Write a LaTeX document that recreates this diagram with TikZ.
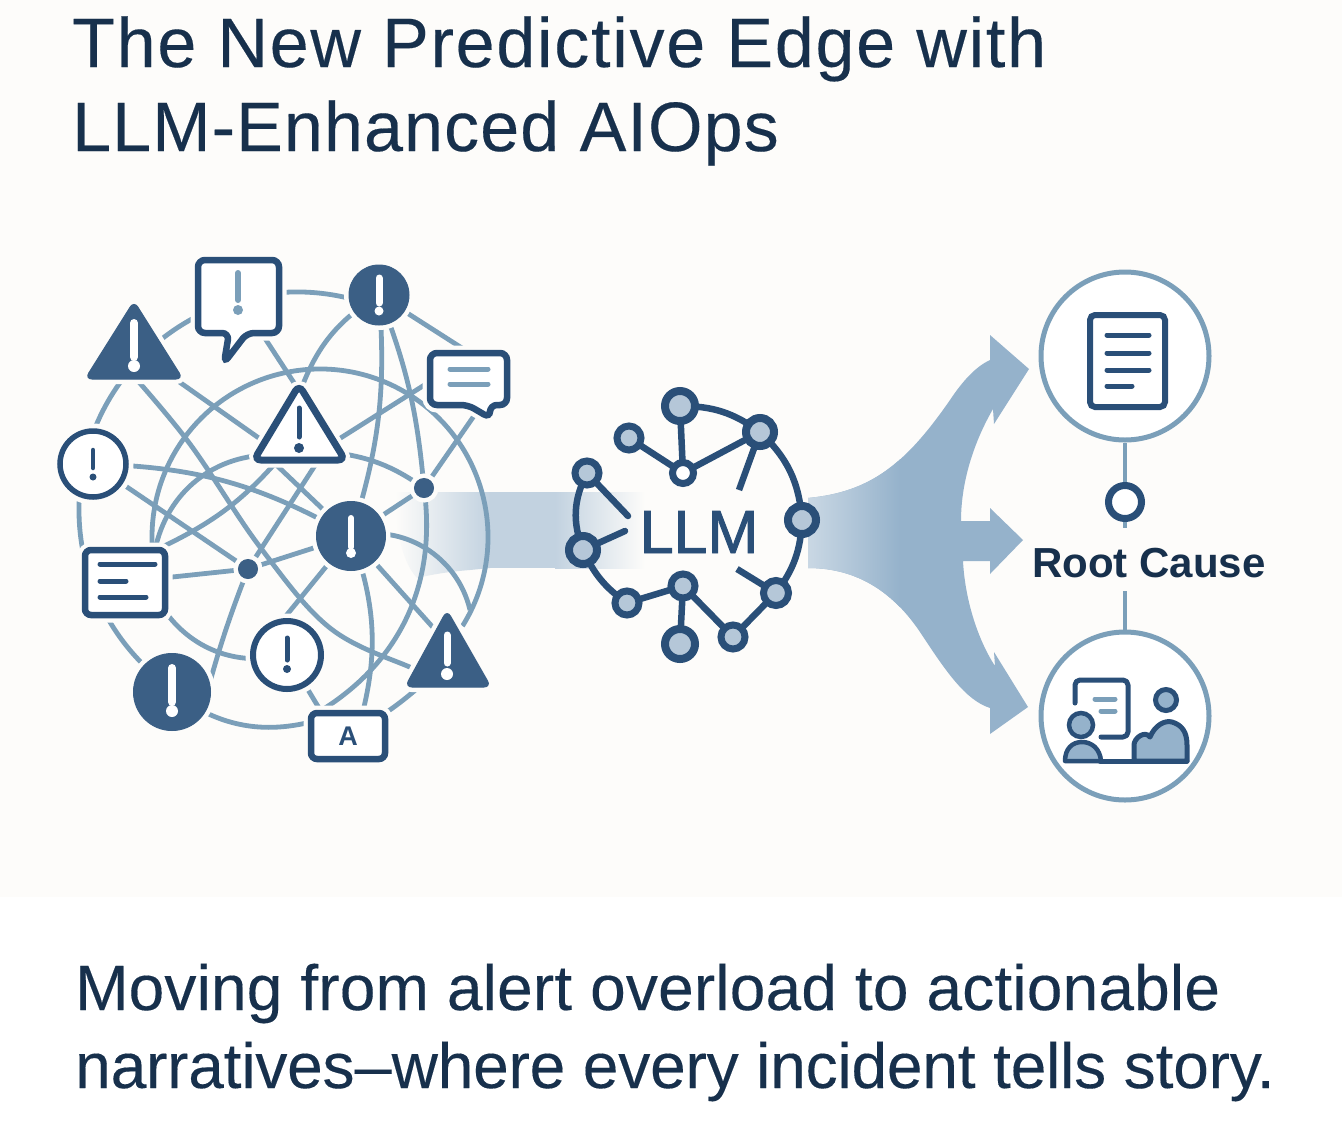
\documentclass[tikz,border=0pt]{standalone}
\usepackage{fontspec}
\setmainfont{Liberation Sans}
\newfontfamily\titlefont[LetterSpace=2.5,FakeBold=0.25]{Liberation Sans}
\newfontfamily\titlefontb[LetterSpace=1.6,FakeBold=0.25]{Liberation Sans}
\newfontfamily\subfont[LetterSpace=0.3,FakeBold=0.2]{Liberation Sans}
\newfontfamily\subfontb[LetterSpace=-0.28,FakeBold=0.2]{Liberation Sans}
\newfontfamily\llmfont[FakeBold=1.6]{Liberation Sans}
\definecolor{bgc}{HTML}{FDFCFA}
\definecolor{navy}{HTML}{17304C}
\definecolor{dark}{HTML}{2A4F78}
\definecolor{solidc}{HTML}{3B5F85}
\definecolor{netc}{HTML}{7B9FB9}
\definecolor{band}{HTML}{C2D2E0}
\definecolor{flow}{HTML}{95B2CB}
\definecolor{inner}{HTML}{B5C7D8}
\tikzset{
 netl/.style={draw=netc,line width=4.8pt},
 halo/.style={preaction={draw=bgc,line width=#1}},
 halo/.default=15pt,
 iconout/.style={draw=dark,line width=6.5pt,fill=white,halo},
 iconsolid/.style={draw=solidc,line width=1pt,fill=solidc,halo=10pt},
 outc/.style={circle,draw=dark,fill=white,inner sep=0pt,halo},
 solc/.style={circle,draw=solidc,fill=solidc,line width=1pt,inner sep=0pt,halo=10pt},
 doc/.style={draw=dark,line width=5pt,line cap=round},
 lln/.style={circle,draw=dark,line width=8pt,fill=inner,inner sep=0pt},
 lle/.style={draw=dark,line width=6.5pt},
 ring/.style={circle,draw=netc,line width=5pt,fill=white,minimum size=168pt,inner sep=0pt},
 titletext/.style={anchor=base west,inner sep=0pt,text=navy},
}
\newcommand\bang[7]{% x y1 y2 ydot r w color
 \draw[#7,line width=#6pt,line cap=round] (#1,#2) -- (#1,#3);
 \fill[#7] (#1,#4) circle (#5pt);}
\begin{document}
\begin{tikzpicture}[x=1pt,y=-1pt]
\useasboundingbox (0,0) rectangle (1342,1120);
\fill[white] (0,0) rectangle (1342,1120);
\fill[bgc] (0,0) rectangle (1342,897);
% titles
\node[titletext,font=\titlefont\fontsize{70}{70}\selectfont] (t1) at (72,67) {The New Predictive Edge with};
\node[titletext,font=\titlefontb\fontsize{70}{70}\selectfont] (t2) at (72,151) {LLM-Enhanced AIOps};
\node[titletext,font=\subfont\fontsize{64}{64}\selectfont] (s1) at (75,1010) {Moving from alert overload to actionable};
\node[titletext,font=\subfontb\fontsize{64}{64}\selectfont] (s2) at (75,1088) {narratives\scalebox{0.58}[1]{—}where every incident tells story.};
% left band
\shade[left color=bgc,right color=band] (395,492) -- (490,492) -- (490,568) -- (470,570) .. controls (445,572) and (430,575) .. (417,578) .. controls (400,560) and (395,520) .. (395,492) -- cycle;
\fill[band] (489,492) rectangle (556,568);
\shade[left color=band,right color=bgc] (555,492) rectangle (645,568);
% right flow
\begin{scope}
\clip (808,498) .. controls (870,492) and (905,465) .. (950,400) .. controls (962,382) and (975,367) .. (990,360) -- (990,335) -- (1029,369) -- (994,424) -- (993,409) .. controls (975,440) and (961,480) .. (961,521) -- (990,521) -- (990,508) -- (1023,540) -- (990,574) -- (990,561) -- (963,561) .. controls (965,600) and (978,640) .. (995,666) -- (994,652) -- (1028,707) -- (990,734) -- (990,708) .. controls (965,700) and (945,670) .. (920,632) .. controls (895,595) and (860,568) .. (808,568) -- cycle;
\fill[flow] (800,320) rectangle (1040,740);
\shade[left color=band!80!white,right color=flow] (800,320) rectangle (900,740);
\end{scope}
% hubs of the network
\coordinate (T1) at (134,350);
\coordinate (S1) at (238,297);
\coordinate (C1) at (379,295);
\coordinate (S2) at (468,379);
\coordinate (T2) at (299,435);
\coordinate (C2) at (93,464);
\coordinate (D1) at (424,488);
\coordinate (C3) at (351,536);
\coordinate (B1) at (125,582);
\coordinate (D2) at (248,569);
\coordinate (C4) at (287,655);
\coordinate (C5) at (172,692);
\coordinate (AB) at (348,736);
\coordinate (T3) at (447,660);
% ports inside the icons
\coordinate (Ring) at (320,537);
\coordinate (Hoop) at (297,510);
\coordinate (S2t) at (465,350);
\coordinate (T2a) at (300,392);
\coordinate (S2a) at (445,372);
\coordinate (T2d) at (320,451);
\coordinate (S2b) at (485,400);
\coordinate (T2e) at (330,452);
\coordinate (T2f) at (290,460);
\coordinate (T1b) at (115,355);
\coordinate (T3b) at (450,682);
\coordinate (Bp1) at (155,550);
\coordinate (T2g) at (275,455);
\coordinate (Bp2) at (160,548);
\coordinate (T2h) at (285,452);
\coordinate (T2j) at (325,450);
\coordinate (T2k) at (268,457);
\coordinate (C5b) at (205,700);
\coordinate (Bp3) at (155,595);
\coordinate (C4b) at (272,633);
\coordinate (ABb) at (358,730);
\coordinate (T3p) at (447,643);
\coordinate (T3q) at (470,610);
\coordinate (ABc) at (325,718);
\coordinate (ABd) at (312,716);
% network
\draw[netl] (Ring) ++(32:168) arc[start angle=32,end angle=-184,radius=168];
\draw[netl] (Hoop) ++(-69:218) arc[start angle=-69,end angle=-236,radius=218];
\draw[netl] (C5) to[bend right=27] (ABc);
\draw[netl] (AB) to[bend right=8] (T3);
\draw[netl] (C1) -- (S2t);
\draw[netl] (S1) -- (T2a);
\draw[netl] (C1) to[bend right=19] (T2a);
\draw[netl] (C1) to[bend left=11] (C3);
\draw[netl] (C1) to[bend left=8] (D1);
\draw[netl] (S2a) -- (T2d);
\draw[netl] (S2b) -- (D1);
\draw[netl] (T2e) to[bend left=14] (D1);
\draw[netl] (D1) -- (C3);
\draw[netl] (T1) -- (T2f);
\draw[netl] plot[smooth,tension=.6] coordinates {(T1b) (187,440) (260,547) (330,628) (412,668) (T3b)};
\draw[netl] (C2) to[bend left=14] (C3);
\draw[netl] (C2) -- (D2);
\draw[netl] (Bp1) to[bend left=40] (T2g);
\draw[netl] (Bp2) to[bend right=12] (T2h);
\draw[netl] (T2j) -- (D2);
\draw[netl] (T2k) -- (C3);
\draw[netl] (B1) -- (D2) -- (C3);
\draw[netl] (D2) to[bend right=3] (C5b);
\draw[netl] (Bp3) to[bend right=38] (C4);
\draw[netl] (C3) -- (C4b);
\draw[netl] (C3) to[bend left=18] (ABb);
\draw[netl] (C3) -- (T3p);
\draw[netl] (C3) to[bend left=45] (T3q);
\draw[netl] (C4) -- (ABc);
\draw[netl] (D1) to[bend left=34] (ABd);
% icons
\draw[iconsolid,rounded corners=7pt] (134,301) -- (183,379) -- (85,379) -- cycle;
\bang{134}{323}{357}{366}{6}{8}{white}
\draw[iconout,rounded corners=7pt] (198,260) -- (279,260) -- (279,333) -- (247,333) -- (224,363) -- (229,333) -- (198,333) -- cycle;
\bang{238}{273}{300}{310}{5}{6}{netc}
\node[solc,minimum size=60pt] (c1n) at (C1) {};
\bang{379}{278}{303}{311}{4.5}{7}{white}
\draw[iconout,rounded corners=7pt] (430,353) -- (507,353) -- (507,405) -- (490,405) -- (490,418) -- (468,405) -- (430,405) -- cycle;
\draw[netc,line width=5pt,line cap=round] (450,369) -- (488,369) (450,384) -- (488,384);
\draw[iconout,line width=7pt,rounded corners=7pt] (299,385) -- (345,460) -- (254,460) -- cycle;
\bang{299}{408}{437}{448}{5}{5}{dark}
\node[outc,line width=5.5pt,minimum size=66pt] (c2n) at (C2) {};
\bang{93}{450}{468}{477}{3.5}{4.5}{dark}
\node[solc,minimum size=19pt,halo=6pt] (d1n) at (D1) {};
\node[solc,minimum size=69pt] (c3n) at (C3) {};
\bang{351}{518}{547}{553}{5}{6}{white}
\draw[iconout,rounded corners=6pt] (85,550) rectangle (165,615);
\draw[doc,dark] (100,564) -- (155,564) (100,581) -- (126,581) (100,597) -- (146,597);
\node[solc,minimum size=19pt,halo=6pt] (d2n) at (D2) {};
\node[outc,line width=6pt,minimum size=68pt] (c4n) at (C4) {};
\bang{287}{638}{660}{669}{4}{5}{dark}
\node[solc,minimum size=77pt] (c5n) at (C5) {};
\bang{172}{668}{702}{711}{6}{8}{white}
\draw[iconsolid,rounded corners=7pt] (447,610) -- (491,687) -- (405,687) -- cycle;
\bang{447}{635}{663}{674}{6}{7}{white}
\node[iconout,rounded corners=6pt,minimum width=74pt,minimum height=46pt,inner sep=0pt,text=dark,font=\bfseries\fontsize{27}{27}\selectfont] (abox) at (AB) {A};
% LLM
\coordinate (L1) at (680,406);
\coordinate (L2) at (760,432);
\coordinate (L3) at (629,438);
\coordinate (L4) at (683,473);
\coordinate (L5) at (587,473);
\coordinate (L6) at (583,550);
\coordinate (L7) at (802,520);
\coordinate (L8) at (627,603);
\coordinate (L9) at (683,586);
\coordinate (L10) at (776,593);
\coordinate (L11) at (733,637);
\coordinate (L12) at (680,644);
\coordinate (e5) at (628,516);
\coordinate (e6) at (625,531);
\coordinate (e2) at (739,490);
\coordinate (e10) at (737,569);
\draw[lle] (L1) to[bend left=18] (L2);
\draw[lle] (L2) to[bend left=21] (L7);
\draw[lle] (L7) to[bend left=17] (L10);
\draw[lle] (L10) -- (L11) -- (L9) -- (L8);
\draw[lle] (L9) -- (L12);
\draw[lle] (L8) to[bend left=15] (L6);
\draw[lle] (L6) to[bend left=24] (L5);
\draw[lle,line cap=round] (L5) -- (e5);
\draw[lle,line cap=round] (L6) -- (e6);
\draw[lle] (L3) -- (L4) -- (L1);
\draw[lle] (L4) -- (L2) -- (e2);
\draw[lle] (L10) -- (e10);
\node[lln,minimum size=30pt] (ln1) at (L1) {};
\node[lln,minimum size=28pt] (ln2) at (L2) {};
\node[lln,minimum size=24pt,line width=7pt] (ln3) at (L3) {};
\node[lln,minimum size=21pt,line width=7pt,fill=white] (ln4) at (L4) {};
\node[lln,minimum size=24pt,line width=7pt] (ln5) at (L5) {};
\node[lln,minimum size=28pt] (ln6) at (L6) {};
\node[lln,minimum size=28pt] (ln7) at (L7) {};
\node[lln,minimum size=24pt,line width=7pt] (ln8) at (L8) {};
\node[lln,minimum size=24pt,line width=7pt] (ln9) at (L9) {};
\node[lln,minimum size=25pt,line width=7pt] (ln10) at (L10) {};
\node[lln,minimum size=24pt,line width=7pt] (ln11) at (L11) {};
\node[lln,minimum size=30pt] (ln12) at (L12) {};
\node[inner sep=0pt,text=dark,font=\llmfont\fontsize{61}{61}\selectfont,anchor=base] (llm) at (699,553) {LLM};
% right side
\node[ring] (r1) at (1125,356) {};
\node[ring] (r2) at (1125,716) {};
\node[circle,draw=dark,line width=7pt,fill=white,minimum size=33pt,inner sep=0pt] (r3) at (1125,502) {};
\node[inner sep=0pt,text=navy,font=\bfseries\fontsize{42}{42}\selectfont] (rc) at (1149,563) {Root Cause};
\coordinate (j1) at (1125,528);
\coordinate (j2) at (1125,591);
\draw[draw=netc,line width=4.5pt] (r1) -- (r3);
\draw[draw=netc,line width=4.5pt] (r3.south) -- (j1);
\draw[draw=netc,line width=4.5pt] (j2) -- (r2.north);
% document icon
\draw[draw=dark,line width=6pt,rounded corners=5pt] (1090,315) rectangle (1165,407);
\draw[doc] (1107,335) -- (1149,335) (1107,353) -- (1149,353) (1107,370) -- (1149,370) (1107,386) -- (1132,386);
% people icon
\draw[draw=dark,line width=5pt,line cap=round,line join=round,rounded corners=5pt] (1075,703) -- (1075,680) -- (1128,680) -- (1128,737) -- (1101,737);
\draw[netc,line width=5pt,line cap=round] (1095,699) -- (1115,699) (1101,711) -- (1115,711);
\draw[draw=dark,line width=5pt,line cap=round] (1100,761) -- (1187,761);
\draw[draw=dark,line width=4.5pt,fill=flow,line join=round] (1065,761) .. controls (1065,749) and (1072,742) .. (1082,742) .. controls (1092,742) and (1100,749) .. (1101,761) -- cycle;
\draw[draw=dark,line width=4.5pt,fill=flow] (1081,725) circle (12pt);
\draw[draw=dark,line width=5pt,fill=flow] (1166,700) circle (10.5pt);
\draw[draw=dark,line width=5pt,fill=flow,line join=round] (1134,761) -- (1134,745) .. controls (1134,738) and (1145,730) .. (1150,737) .. controls (1155,725) and (1165,720) .. (1172,722) .. controls (1182,725) and (1187,732) .. (1187,745) -- (1187,761) -- cycle;
\end{tikzpicture}
\end{document}
